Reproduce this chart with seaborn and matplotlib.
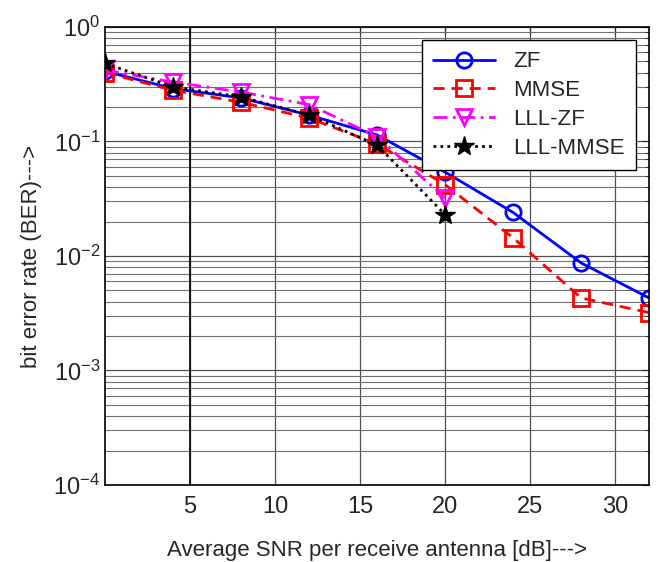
import numpy as np
import pandas as pd
import matplotlib
matplotlib.use("Agg")
import matplotlib.pyplot as plt
import seaborn as sns
from matplotlib.ticker import LogLocator, FixedLocator, NullFormatter

snr_db = [0, 4, 8, 12, 16, 20, 24, 28, 32]
ber_zf = [0.41, 0.29, 0.24, 0.17, 0.114, 0.054, 0.024, 0.0087, 0.0043]
ber_mmse = [0.40, 0.28, 0.22, 0.16, 0.095, 0.042, 0.0144, 0.0043, 0.0032]
snr_lll = [0, 4, 8, 12, 16, 20]
ber_lll_zf = [0.42, 0.33, 0.27, 0.21, 0.11, 0.032]
ber_lll_mmse = [0.48, 0.30, 0.245, 0.17, 0.093, 0.023]

sns.set_style("white")
plt.rcParams["font.family"] = ["Liberation Sans", "DejaVu Sans"]
plt.rcParams["mathtext.fontset"] = "custom"
plt.rcParams["mathtext.rm"] = "Liberation Sans"
plt.rcParams["mathtext.it"] = "Liberation Sans"

fig = plt.figure(figsize=(6.61, 5.62), dpi=100)
ax = fig.add_axes([0.159, 0.137, 0.823, 0.815])

series = [
    ("ZF", snr_db, ber_zf, "blue", "-", "o", "none"),
    ("MMSE", snr_db, ber_mmse, "red", (0, (4, 2.5)), "s", "none"),
    ("LLL-ZF", snr_lll, ber_lll_zf, "magenta", (0, (5, 2, 1, 2)), "v", "none"),
    ("LLL-MMSE", snr_lll, ber_lll_mmse, "black", (0, (1, 1.5)), "*", "black"),
]
for name, xs, ys, col, ls, mk, mfc in series:
    df = pd.DataFrame({"snr": xs, "ber": ys})
    sns.lineplot(data=df, x="snr", y="ber", ax=ax, color=col, linestyle=ls,
                 linewidth=2, marker=mk, markersize=11 if mk != "*" else 15,
                 markerfacecolor=mfc, markeredgecolor=col,
                 markeredgewidth=2 if mk != "*" else 1, label=name)

ax.set_yscale("log")
ax.set_xlim(0, 32)
ax.set_ylim(1e-4, 1)
ax.xaxis.set_major_locator(FixedLocator([5, 10, 15, 20, 25, 30]))
ax.yaxis.set_major_locator(LogLocator(base=10, numticks=10))
ax.yaxis.set_minor_locator(LogLocator(base=10, subs=np.arange(2, 10), numticks=10))
ax.yaxis.set_minor_formatter(NullFormatter())

ax.grid(True, which="major", color="#505050", linewidth=0.9)
ax.grid(True, which="minor", axis="y", color="#707070", linewidth=0.8)
ax.axvline(5, color="black", linewidth=1.2, zorder=1)

ax.tick_params(which="both", direction="in", top=True, right=True, labelsize=17)
ax.tick_params(axis="x", pad=8)
ax.tick_params(which="major", length=5)
ax.tick_params(which="minor", length=3)
for s in ax.spines.values():
    s.set_color("black")
    s.set_linewidth(1.2)

ax.set_xlabel("Average SNR per receive antenna [dB]--->", fontsize=16, labelpad=16)
ax.set_ylabel("bit error rate (BER)--->", fontsize=16, labelpad=8)

leg = ax.legend(loc="upper right", fontsize=16, frameon=True, fancybox=False,
                edgecolor="black", framealpha=1, handlelength=2.8,
                borderaxespad=0.6, labelspacing=0.35, borderpad=0.5)
leg.get_frame().set_linewidth(1.0)

fig.savefig("out.png", dpi=100)
